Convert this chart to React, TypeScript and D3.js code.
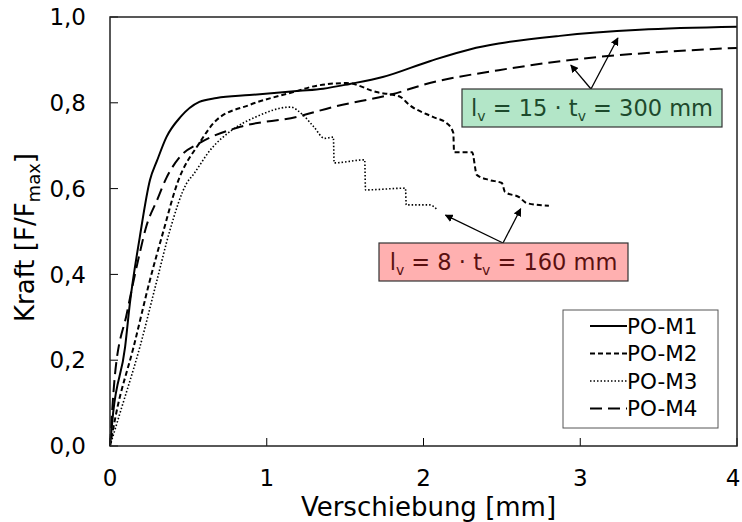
import React, { useEffect, useRef } from "react";
import * as d3 from "d3";

type Pt = [number, number];

const seriesNames = ["PO-M1", "PO-M2", "PO-M3", "PO-M4"];

const m1: Pt[] = [
  [0, 0], [0.02, 0.077], [0.096, 0.23], [0.127, 0.333], [0.19, 0.487], [0.255, 0.62],
  [0.3, 0.665], [0.36, 0.72], [0.45, 0.767], [0.57, 0.802], [0.68, 0.811], [0.89, 0.818],
  [1.21, 0.828], [1.36, 0.833], [1.53, 0.844], [1.74, 0.86], [2.04, 0.897], [2.3, 0.925],
  [2.48, 0.938], [2.87, 0.956], [3.38, 0.97], [4.0, 0.977],
];

const m2: Pt[] = [
  [0, 0], [0.04, 0.077], [0.15, 0.23], [0.255, 0.387], [0.34, 0.5], [0.43, 0.613],
  [0.57, 0.706], [0.68, 0.76], [0.89, 0.795], [1.17, 0.825], [1.32, 0.84], [1.51, 0.846],
  [1.7, 0.825], [1.85, 0.814], [1.91, 0.795], [2.06, 0.767], [2.15, 0.752], [2.19, 0.73],
  [2.195, 0.685], [2.31, 0.685], [2.34, 0.632], [2.42, 0.62], [2.5, 0.613], [2.52, 0.592],
  [2.61, 0.58], [2.66, 0.566], [2.8, 0.56],
];

const m3: Pt[] = [
  [0, 0], [0.064, 0.077], [0.19, 0.23], [0.3, 0.387], [0.38, 0.5], [0.49, 0.613],
  [0.53, 0.632], [0.64, 0.69], [0.78, 0.737], [0.93, 0.767], [1.15, 0.79], [1.23, 0.772],
  [1.3, 0.744], [1.37, 0.717], [1.425, 0.72], [1.43, 0.66], [1.625, 0.667], [1.63, 0.597],
  [1.885, 0.601], [1.89, 0.562], [2.04, 0.562], [2.09, 0.55],
];

const m4: Pt[] = [
  [0, 0], [0.03, 0.16], [0.108, 0.31], [0.19, 0.45], [0.23, 0.51], [0.3, 0.573],
  [0.36, 0.625], [0.446, 0.674], [0.57, 0.706], [0.83, 0.744], [1.19, 0.767], [1.42, 0.79],
  [1.8, 0.82], [2.04, 0.846], [2.48, 0.876], [3.12, 0.907], [3.5, 0.918], [4.0, 0.928],
];

const seriesData = [m1, m2, m3, m4];
const dashes = ["none", "5,3", "1.5,2", "12,6"];
const widths = [2, 2, 1.6, 2];

const xTicks = [0, 1, 2, 3, 4];
const yTicks = [0, 0.2, 0.4, 0.6, 0.8, 1.0];

// where the annotation arrows point (data units)
const redTargets: Pt[] = [[2.14, 0.538], [2.62, 0.553]];
const greenTargets: Pt[] = [[2.94, 0.888], [3.24, 0.951]];

export default function App() {
  const ref = useRef<SVGSVGElement>(null);

  useEffect(() => {
    const width = 742, height = 522;
    const margin = { top: 17, right: 5, bottom: 76, left: 110 };
    const w = width - margin.left - margin.right;
    const h = height - margin.top - margin.bottom;
    const font = "Verdana, 'DejaVu Sans', sans-serif";

    const svg = d3.select(ref.current);
    svg.selectAll("*").remove();

    const x = d3.scaleLinear().domain([0, 4]).range([0, w]);
    const y = d3.scaleLinear().domain([0, 1]).range([h, 0]);

    svg.append("defs").append("marker")
      .attr("id", "arrow")
      .attr("viewBox", "0 0 10 10")
      .attr("refX", 9).attr("refY", 5)
      .attr("markerWidth", 8).attr("markerHeight", 8)
      .attr("orient", "auto")
      .attr("markerUnits", "userSpaceOnUse")
      .append("path").attr("d", "M0,0 L10,5 L0,10 z").attr("fill", "#000");

    const g = svg.append("g").attr("transform", `translate(${margin.left},${margin.top})`);

    // ticks point inward
    g.selectAll(".xt").data(xTicks).join("line")
      .attr("x1", d => x(d)).attr("x2", d => x(d))
      .attr("y1", h).attr("y2", h - 8)
      .attr("stroke", "#000").attr("stroke-width", 1);
    g.selectAll(".yt").data(yTicks).join("line")
      .attr("x1", 0).attr("x2", 8)
      .attr("y1", d => y(d)).attr("y2", d => y(d))
      .attr("stroke", "#000").attr("stroke-width", 1);

    // last x label is pulled in so it stays on the page
    g.selectAll(".xl").data(xTicks).join("text")
      .attr("x", d => Math.min(x(d), w - 4)).attr("y", h + 40)
      .attr("text-anchor", "middle")
      .attr("font-family", font).attr("font-size", 23)
      .text(d => d3.format("d")(d));
    g.selectAll(".yl").data(yTicks).join("text")
      .attr("x", -24).attr("y", d => y(d)).attr("dy", "0.36em")
      .attr("text-anchor", "end")
      .attr("font-family", font).attr("font-size", 23)
      .text(d => d3.format(".1f")(d).replace(".", ","));

    const line = d3.line<Pt>()
      .x(d => x(d[0])).y(d => y(d[1]))
      .curve(d3.curveMonotoneX);
    seriesData.forEach((data, i) => {
      g.append("path")
        .datum(data)
        .attr("d", line)
        .attr("fill", "none")
        .attr("stroke", "#000")
        .attr("stroke-width", widths[i])
        .attr("stroke-dasharray", dashes[i]);
    });

    g.append("rect").attr("width", w).attr("height", h)
      .attr("fill", "none").attr("stroke", "#222").attr("stroke-width", 1.5);

    // axis titles
    g.append("text")
      .attr("x", w / 2 + 5).attr("y", h + 70)
      .attr("text-anchor", "middle")
      .attr("font-family", font).attr("font-size", 26)
      .text("Verschiebung [mm]");
    const yt = g.append("text")
      .attr("transform", `translate(${-76},${h / 2 + 6}) rotate(-90)`)
      .attr("text-anchor", "middle")
      .attr("font-family", font).attr("font-size", 26);
    yt.append("tspan").text("Kraft [F/F");
    yt.append("tspan").attr("font-size", 18).attr("dy", 6).text("max");
    yt.append("tspan").attr("dy", -6).text("]");

    // legend
    const lg = g.append("g").attr("transform", `translate(${x(2.89)},${y(0.317)})`);
    lg.append("rect").attr("width", 155).attr("height", 118)
      .attr("fill", "#fff").attr("stroke", "#555").attr("stroke-width", 1);
    seriesNames.forEach((name, i) => {
      const ly = 16 + i * 27.5;
      lg.append("line")
        .attr("x1", 27).attr("x2", 64).attr("y1", ly).attr("y2", ly)
        .attr("stroke", "#000").attr("stroke-width", widths[i])
        .attr("stroke-dasharray", dashes[i]);
      lg.append("text")
        .attr("x", 64).attr("y", ly).attr("dy", "0.36em")
        .attr("font-family", font).attr("font-size", 21.5)
        .text(name);
    });

    // annotation boxes with arrows
    const note = (bx: number, by: number, bw: number, fill: string, color: string,
      n: string, total: string, ox: number, targets: Pt[]) => {
      const a = g.append("g");
      targets.forEach(t => {
        a.append("line")
          .attr("x1", ox).attr("y1", by)
          .attr("x2", x(t[0])).attr("y2", y(t[1]))
          .attr("stroke", "#000").attr("stroke-width", 1.3)
          .attr("marker-end", "url(#arrow)");
      });
      a.append("rect").attr("x", bx).attr("y", by).attr("width", bw).attr("height", 38)
        .attr("fill", fill).attr("stroke", "#333").attr("stroke-width", 1.2);
      const t = a.append("text")
        .attr("x", bx + bw / 2).attr("y", by + 27)
        .attr("text-anchor", "middle")
        .attr("font-family", font).attr("font-size", 22.5).attr("fill", color);
      t.append("tspan").text("l");
      t.append("tspan").attr("font-size", 14).attr("dy", 5).text("v");
      t.append("tspan").attr("dy", -5).text(` = ${n} · t`);
      t.append("tspan").attr("font-size", 14).attr("dy", 5).text("v");
      t.append("tspan").attr("dy", -5).text(` = ${total} mm`);
    };
    note(352, 72, 260, "#b3e6c8", "#1d4a2c", "15", "300", 481, greenTargets);
    note(269, 226, 249, "#ffb0b0", "#5a1010", "8", "160", 393, redTargets);
  }, []);

  return (
    <svg ref={ref} width={742} height={522}
      style={{ position: "absolute", left: 0, top: 0, display: "block" }} />
  );
}
